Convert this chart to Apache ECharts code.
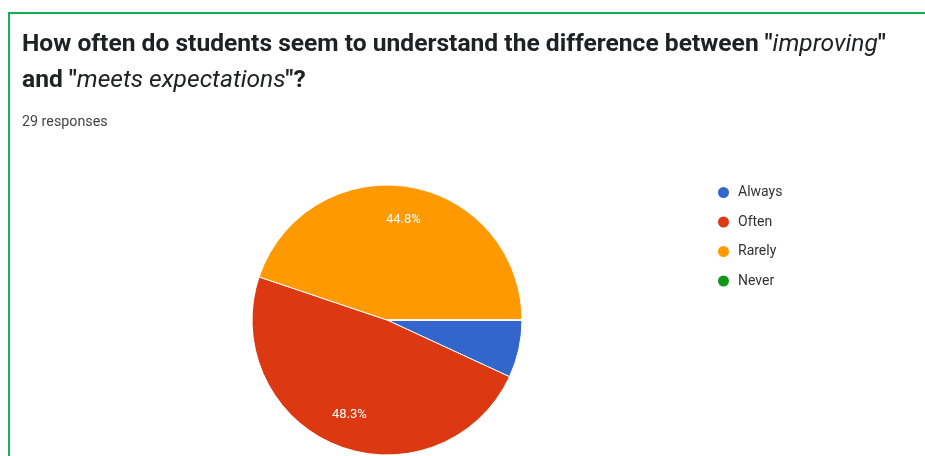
<!DOCTYPE html>
<html>
<head>
<meta charset="utf-8">
<script src="https://cdn.jsdelivr.net/npm/echarts@6/dist/echarts.min.js"></script>
<style>
  html, body { margin: 0; padding: 0; background: #ffffff; }
  #chart { width: 925px; height: 456px; }
</style>
</head>
<body>
<div id="chart"></div>
<script>
// Survey answers and response counts
const categories = ['Always', 'Often', 'Rarely', 'Never'];
const counts = [2, 14, 13, 0];
const sliceColors = ['#3366cc', '#dc3912', '#ff9900', '#109618'];
const responseCount = 29;

const pieData = categories.map((name, i) => ({
  name: name,
  value: counts[i],
  itemStyle: { color: sliceColors[i] }
}));

const total = counts.reduce((a, b) => a + b, 0);
const labelData = categories.map((name, i) => ({
  name: name,
  value: counts[i],
  label: { show: counts[i] / total >= 0.1 }
}));

const chart = echarts.init(document.getElementById('chart'), null, { renderer: 'canvas' });

const headStyle = { fontFamily: 'Roboto', fontWeight: 'bold', fontSize: 24.6, color: '#202124', lineHeight: 36 };
const headItalic = { fontFamily: 'Roboto', fontWeight: 'normal', fontStyle: 'italic', fontSize: 24.6, color: '#202124', lineHeight: 36 };

chart.setOption({
  backgroundColor: '#ffffff',
  animation: false,
  title: [
    {
      left: 22,
      top: 27,
      padding: 0,
      text: '{b|How often do students seem to understand the difference between "}{i|improving}{b|"}\n{b|and "}{i|meets expectations}{b|"?}',
      textStyle: { rich: { b: headStyle, i: headItalic } }
    },
    {
      left: 22,
      top: 115,
      padding: 0,
      text: responseCount + ' responses',
      textStyle: { fontFamily: 'Roboto', fontWeight: 'normal', fontSize: 14.3, color: '#444444' }
    }
  ],
  legend: {
    orient: 'vertical',
    left: 711,
    top: 180,
    icon: 'circle',
    itemWidth: 13,
    itemHeight: 13,
    itemGap: 14.5,
    data: categories,
    textStyle: { fontFamily: 'Roboto', fontSize: 14, color: '#333333', padding: [0, 0, 0, 3] }
  },
  graphic: [
    {
      type: 'rect',
      silent: true,
      z: 100,
      shape: { x: 9, y: 13, width: 1000, height: 1000 },
      style: { fill: 'none', stroke: '#10b34f', lineWidth: 2 }
    }
  ],
  series: [
    {
      type: 'pie',
      name: 'answers',
      center: [387, 320],
      radius: [0, 135],
      startAngle: 0,
      clockwise: true,
      avoidLabelOverlap: false,
      itemStyle: { borderColor: '#ffffff', borderWidth: 1 },
      label: { show: false },
      labelLine: { show: false },
      emphasis: { disabled: true },
      data: pieData
    },
    {
      type: 'pie',
      name: 'labels',
      silent: true,
      center: [387, 320],
      radius: [62, 135],
      startAngle: 0,
      clockwise: true,
      percentPrecision: 1,
      avoidLabelOverlap: false,
      itemStyle: { color: 'rgba(0,0,0,0)', borderWidth: 0 },
      label: {
        position: 'inside',
        formatter: '{d}%',
        fontFamily: 'Roboto',
        fontSize: 13,
        color: '#ffffff'
      },
      labelLine: { show: false },
      emphasis: { disabled: true },
      data: labelData
    }
  ]
});
</script>
</body>
</html>
